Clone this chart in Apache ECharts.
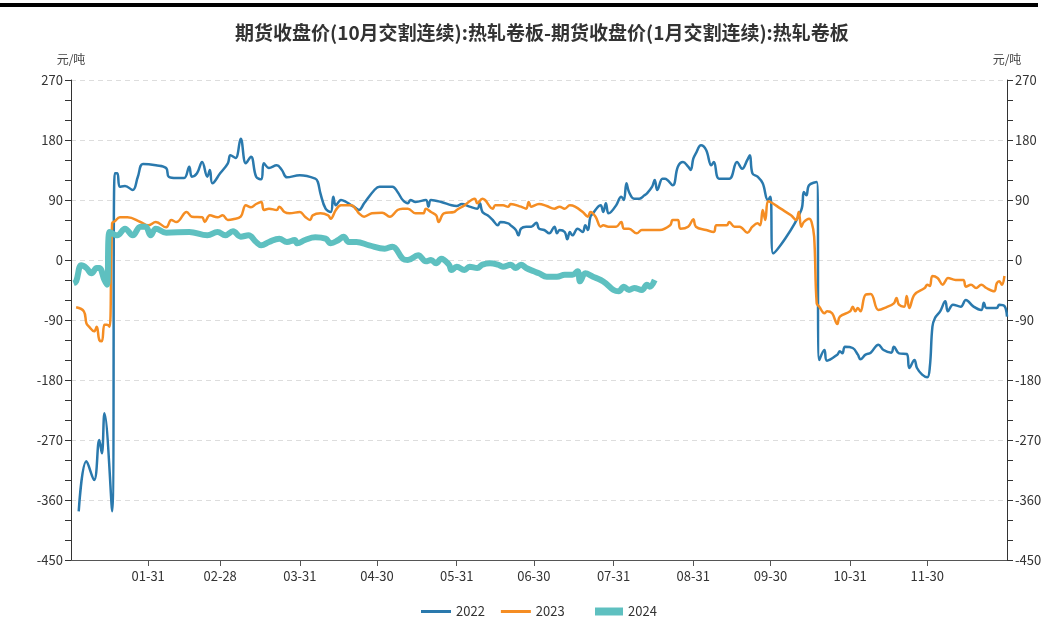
<!DOCTYPE html>
<html>
<head>
<meta charset="utf-8">
<script src="https://cdn.jsdelivr.net/npm/echarts@6/dist/echarts.min.js"></script>
<style>
  html, body { margin: 0; padding: 0; background: #fff; }
  #chart { width: 1049px; height: 635px; }
</style>
</head>
<body>
<div id="chart"></div>
<script>
const monthDays = [31, 28, 31, 30, 31, 30, 31, 31, 30, 31, 30, 31]
const tickLabels = ['01-31', '02-28', '03-31', '04-30', '05-31', '06-30', '07-31', '08-31', '09-30', '10-31', '11-30']
const yTicks = [-450, -360, -270, -180, -90, 0, 90, 180, 270]

const s2022 = [
  ['01-04', -377], ['01-07', -302], ['01-10', -330], ['01-12', -270], ['01-13', -290], ['01-14', -230],
  ['01-17', -377], ['01-18', 130], ['01-19', 130], ['01-20', 110], ['01-22', 111], ['01-25', 105],
  ['01-27', 125], ['01-29', 144], ['02-03', 142], ['02-07', 138], ['02-08', 125], ['02-11', 123],
  ['02-14', 123], ['02-16', 140], ['02-17', 125], ['02-19', 130], ['02-21', 147], ['02-23', 125],
  ['02-24', 135], ['02-25', 115], ['02-28', 130], ['03-03', 145], ['03-04', 157], ['03-06', 153],
  ['03-08', 182], ['03-10', 145], ['03-12', 155], ['03-14', 125], ['03-16', 121], ['03-17', 145],
  ['03-19', 138], ['03-22', 142], ['03-24', 135], ['03-26', 124], ['03-31', 127], ['04-06', 122],
  ['04-07', 117], ['04-08', 100], ['04-10', 77], ['04-12', 72], ['04-13', 95], ['04-14', 82],
  ['04-16', 90], ['04-18', 87], ['04-20', 82], ['04-21', 80], ['04-23', 75], ['04-25', 85],
  ['04-29', 105], ['05-01', 110], ['05-06', 110], ['05-08', 102], ['05-10', 90], ['05-12', 85],
  ['05-13', 90], ['05-15', 87], ['05-19', 90], ['05-20', 80], ['05-21', 90], ['05-25', 87],
  ['05-29', 82], ['05-31', 81], ['06-02', 84], ['06-05', 80], ['06-08', 77], ['06-09', 85],
  ['06-10', 72], ['06-12', 67], ['06-14', 60], ['06-16', 52], ['06-17', 57], ['06-20', 55],
  ['06-21', 52], ['06-23', 45], ['06-24', 37], ['06-25', 47], ['06-27', 50], ['06-29', 50],
  ['07-01', 56], ['07-02', 47], ['07-04', 45], ['07-06', 40], ['07-08', 50], ['07-09', 40],
  ['07-10', 45], ['07-12', 42], ['07-13', 31], ['07-14', 42], ['07-15', 37], ['07-17', 47],
  ['07-19', 42], ['07-20', 52], ['07-21', 45], ['07-22', 65], ['07-23', 70], ['07-25', 80],
  ['07-26', 82], ['07-27', 72], ['07-28', 85], ['07-29', 70], ['07-30', 72], ['08-01', 82],
  ['08-03', 95], ['08-04', 90], ['08-05', 115], ['08-06', 102], ['08-08', 92], ['08-10', 92],
  ['08-12', 97], ['08-13', 100], ['08-15', 110], ['08-16', 120], ['08-17', 105], ['08-19', 122],
  ['08-20', 122], ['08-23', 112], ['08-25', 140], ['08-27', 147], ['08-29', 140], ['08-30', 135],
  ['08-31', 152], ['09-01', 160], ['09-03', 172], ['09-05', 165], ['09-07', 142], ['09-08', 147],
  ['09-10', 122], ['09-14', 122], ['09-17', 147], ['09-19', 137], ['09-21', 150], ['09-22', 157],
  ['09-23', 130], ['09-25', 125], ['09-27', 115], ['09-29', 90], ['09-30', 95], ['10-01', 10],
  ['10-12', 75], ['10-13', 102], ['10-14', 97], ['10-15', 112], ['10-18', 117], ['10-19', -150],
  ['10-21', -135], ['10-22', -151], ['10-26', -142], ['10-27', -137], ['10-28', -140], ['10-29', -130],
  ['11-01', -132], ['11-03', -142], ['11-04', -149], ['11-06', -142], ['11-08', -139], ['11-11', -127],
  ['11-13', -135], ['11-16', -139], ['11-17', -130], ['11-19', -140], ['11-22', -141], ['11-23', -162],
  ['11-25', -150], ['11-26', -162], ['11-28', -172], ['11-30', -176], ['12-01', -160], ['12-02', -100],
  ['12-03', -87], ['12-05', -77], ['12-07', -62], ['12-08', -77], ['12-10', -67], ['12-13', -70],
  ['12-15', -60], ['12-18', -70], ['12-21', -75], ['12-22', -64], ['12-23', -72], ['12-27', -72],
  ['12-28', -67], ['12-30', -69], ['12-31', -85]
]

const s2023 = [
  ['01-03', -71], ['01-06', -77], ['01-07', -95], ['01-08', -100], ['01-10', -107], ['01-11', -100],
  ['01-12', -120], ['01-13', -122], ['01-14', -97], ['01-15', -97], ['01-16', -100], ['01-17', 55],
  ['01-18', 58], ['01-20', 64], ['01-23', 64], ['01-28', 57], ['01-31', 52], ['02-03', 57],
  ['02-07', 49], ['02-09', 60], ['02-11', 57], ['02-15', 72], ['02-17', 65], ['02-21', 64],
  ['02-22', 57], ['02-24', 67], ['02-27', 64], ['03-01', 67], ['03-03', 60], ['03-05', 61],
  ['03-08', 65], ['03-10', 82], ['03-12', 79], ['03-14', 84], ['03-16', 87], ['03-17', 75],
  ['03-19', 77], ['03-22', 75], ['03-23', 80], ['03-25', 72], ['03-27', 70], ['03-31', 72],
  ['04-02', 65], ['04-04', 60], ['04-05', 67], ['04-08', 70], ['04-11', 67], ['04-12', 62],
  ['04-14', 75], ['04-16', 82], ['04-20', 82], ['04-22', 75], ['04-23', 70], ['04-25', 65],
  ['04-28', 70], ['05-02', 71], ['05-05', 65], ['05-08', 75], ['05-10', 77], ['05-12', 77],
  ['05-15', 70], ['05-18', 70], ['05-19', 77], ['05-21', 72], ['05-23', 67], ['05-24', 57],
  ['05-26', 70], ['05-30', 72], ['05-31', 75], ['06-03', 82], ['06-07', 92], ['06-08', 85],
  ['06-10', 92], ['06-11', 90], ['06-14', 77], ['06-15', 82], ['06-18', 82], ['06-20', 80],
  ['06-21', 84], ['06-25', 80], ['06-27', 77], ['06-28', 87], ['06-29', 80], ['07-02', 84],
  ['07-05', 81], ['07-08', 77], ['07-10', 80], ['07-12', 77], ['07-14', 82], ['07-16', 80],
  ['07-19', 72], ['07-21', 65], ['07-22', 72], ['07-24', 65], ['07-26', 50], ['07-27', 52],
  ['07-29', 50], ['08-01', 50], ['08-03', 57], ['08-04', 47], ['08-06', 47], ['08-09', 40],
  ['08-11', 45], ['08-14', 45], ['08-16', 45], ['08-18', 45], ['08-22', 52], ['08-23', 60],
  ['08-25', 60], ['08-26', 47], ['08-29', 50], ['08-31', 61], ['09-01', 50], ['09-05', 45],
  ['09-08', 42], ['09-09', 52], ['09-13', 52], ['09-14', 57], ['09-16', 50], ['09-18', 50],
  ['09-21', 41], ['09-23', 50], ['09-25', 55], ['09-26', 52], ['09-27', 75], ['09-28', 60],
  ['09-29', 88], ['09-30', 87], ['10-04', 77], ['10-08', 67], ['10-10', 60], ['10-11', 72],
  ['10-12', 50], ['10-13', 57], ['10-15', 62], ['10-16', 57], ['10-17', 35], ['10-18', -65],
  ['10-19', -70], ['10-21', -80], ['10-22', -77], ['10-24', -80], ['10-26', -96], ['10-27', -85],
  ['10-31', -77], ['11-01', -70], ['11-02', -77], ['11-03', -72], ['11-04', -77], ['11-06', -52],
  ['11-08', -51], ['11-11', -75], ['11-14', -71], ['11-17', -65], ['11-18', -57], ['11-19', -67],
  ['11-21', -70], ['11-22', -54], ['11-23', -72], ['11-25', -52], ['11-29', -42], ['11-30', -37],
  ['12-01', -39], ['12-02', -24], ['12-04', -27], ['12-06', -37], ['12-07', -32], ['12-08', -27],
  ['12-11', -30], ['12-14', -30], ['12-15', -40], ['12-17', -37], ['12-19', -42], ['12-21', -37],
  ['12-23', -42], ['12-26', -47], ['12-27', -35], ['12-28', -32], ['12-29', -37], ['12-30', -24]
]

const s2024 = [
  ['01-02', -35], ['01-03', -32], ['01-05', -8], ['01-07', -12], ['01-09', -20], ['01-11', -12],
  ['01-12', -12], ['01-14', -30], ['01-15', -37], ['01-16', 42], ['01-19', 37], ['01-22', 47],
  ['01-25', 37], ['01-28', 50], ['01-30', 50], ['02-01', 37], ['02-03', 47], ['02-07', 41],
  ['02-16', 42], ['02-23', 37], ['02-27', 42], ['03-02', 37], ['03-05', 43], ['03-08', 35],
  ['03-11', 37], ['03-14', 27], ['03-16', 22], ['03-19', 27], ['03-23', 32], ['03-26', 27],
  ['03-29', 30], ['03-30', 25], ['04-02', 30], ['04-06', 34], ['04-10', 32], ['04-12', 25],
  ['04-15', 30], ['04-17', 35], ['04-19', 27], ['04-22', 27], ['04-27', 22], ['05-03', 17],
  ['05-06', 20], ['05-10', 2], ['05-12', 0], ['05-16', 7], ['05-19', -2], ['05-21', 0],
  ['05-23', -5], ['05-25', 2], ['05-28', -7], ['05-29', -15], ['05-31', -10], ['06-03', -15],
  ['06-05', -10], ['06-08', -12], ['06-10', -7], ['06-13', -5], ['06-16', -7], ['06-18', -10],
  ['06-21', -7], ['06-23', -12], ['06-25', -7], ['06-27', -12], ['06-30', -17], ['07-02', -20],
  ['07-05', -25], ['07-09', -25], ['07-12', -22], ['07-15', -22], ['07-17', -17], ['07-18', -32],
  ['07-20', -20], ['07-23', -25], ['07-26', -30], ['07-28', -35], ['07-31', -45], ['08-02', -47],
  ['08-04', -40], ['08-06', -45], ['08-08', -42], ['08-11', -45], ['08-13', -37], ['08-14', -40],
  ['08-16', -30]
]

// every day of the year as MM-DD
const pad = n => (n < 10 ? '0' : '') + n
const categories = []
monthDays.forEach((n, m) => {
  for (let d = 1; d <= n; d++) categories.push(pad(m + 1) + '-' + pad(d))
})

const font = "'Noto Sans CJK SC', 'Noto Sans', sans-serif"
const isTick = (i, v) => tickLabels.includes(v)
const legendText = { color: '#333', fontSize: 13, fontFamily: font }

const yAxisBase = {
  type: 'value',
  min: yTicks[0],
  max: yTicks[yTicks.length - 1],
  interval: 90,
  name: '元/吨',
  nameGap: 15,
  nameTextStyle: { color: '#444', fontSize: 12, fontFamily: font },
  axisLine: { show: true, onZero: false, lineStyle: { color: '#333', width: 1 } },
  axisTick: { show: true, inside: false, length: 6, lineStyle: { color: '#333' } },
  minorTick: { show: true, splitNumber: 3, length: 6, lineStyle: { color: '#333' } },
  axisLabel: { color: '#333', fontSize: 13, margin: 8, fontFamily: font }
}

const chart = echarts.init(document.getElementById('chart'))
chart.setOption({
  animation: false,
  backgroundColor: '#fff',
  title: {
    text: '期货收盘价(10月交割连续):热轧卷板-期货收盘价(1月交割连续):热轧卷板',
    left: 230,
    top: 18,
    textStyle: { fontSize: 19, fontWeight: 'bold', color: '#333', fontFamily: font }
  },
  graphic: [
    { type: 'rect', left: 0, top: 3, shape: { width: 1038, height: 4 }, style: { fill: '#000' } }
  ],
  legend: [
    {
      left: 416, bottom: 12, itemWidth: 30, itemHeight: 3, itemGap: 16, icon: 'rect',
      textStyle: legendText, data: ['2022', '2023']
    },
    {
      left: 590, bottom: 12, itemWidth: 28, itemHeight: 8, icon: 'rect',
      textStyle: legendText, data: ['2024']
    }
  ],
  grid: { left: 71, right: 42, top: 80, bottom: 75, containLabel: false, outerBoundsMode: 'none' },
  xAxis: {
    type: 'category',
    boundaryGap: false,
    data: categories,
    axisLine: { onZero: false, lineStyle: { color: '#555' } },
    axisTick: { interval: isTick, length: 6, lineStyle: { color: '#555' } },
    axisLabel: { interval: isTick, color: '#333', fontSize: 13, margin: 10, fontFamily: font },
    splitLine: { show: false }
  },
  yAxis: [
    Object.assign({}, yAxisBase, {
      position: 'left',
      splitLine: { show: true, lineStyle: { color: '#ddd', type: [5, 4] } }
    }),
    Object.assign({}, yAxisBase, {
      position: 'right',
      splitLine: { show: false }
    })
  ],
  series: [
    {
      name: '2022', type: 'line', data: s2022, smooth: 0.4, symbol: 'none',
      lineStyle: { width: 2.5, color: '#2a79ad' }, itemStyle: { color: '#2a79ad' }
    },
    {
      name: '2023', type: 'line', data: s2023, smooth: 0.4, symbol: 'none',
      lineStyle: { width: 2.5, color: '#f58d23' }, itemStyle: { color: '#f58d23' }
    },
    {
      name: '2024', type: 'line', data: s2024, smooth: 0.4, symbol: 'none',
      lineStyle: { width: 6, color: '#5ec0c0' }, itemStyle: { color: '#5ec0c0' }
    }
  ]
})
</script>
</body>
</html>
